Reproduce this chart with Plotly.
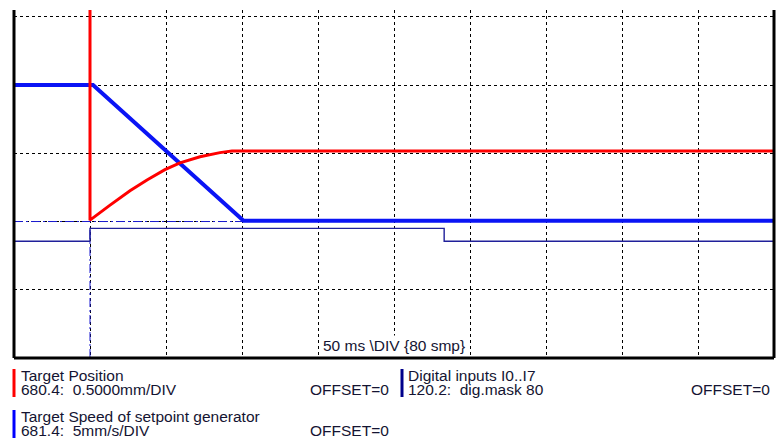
import plotly.graph_objects as go

# ---- data (time in ms, values in screen divisions) ----
pos_t = [50, 50, 63.2, 76.3, 87.5, 99.3, 109.2, 122.4, 135.5, 143.4, 500]
pos_v = [5.4, 2.02, 2.24, 2.45, 2.61, 2.76, 2.86, 2.95, 3.01, 3.035, 3.035]

spd_t = [0, 52, 151, 500]
spd_v = [4.0, 4.0, 2.01, 2.01]

dig_t = [0, 50, 50, 283, 283, 500]
dig_v = [1.71, 1.71, 1.90, 1.90, 1.71, 1.71]

cur_h_t = [0, 151]
cur_h_v = [2.0, 2.0]
cur_v_t = [50, 50]
cur_v_v = [0, 1.9]

x_range = [0, 500]
y_range = [0, 5.1]

timebase_label = "50 ms \\DIV {80 smp}"
legend_rows = [
    ("Target Position", "680.4:  0.5000mm/DIV", "OFFSET=0", "#ff0000"),
    ("Target Speed of setpoint generator", "681.4:  5mm/s/DIV", "OFFSET=0", "#0000ff"),
]
legend_col2 = ("Digital inputs I0..I7", "120.2:  dig.mask 80", "OFFSET=0", "#00008b")

W, H = 781, 439
L, R, T, B = 14, 774, 10, 358
TXT = "#141432"
FONT = "Arial"
FS = 15.5

fig = go.Figure()
fig.add_trace(go.Scatter(x=cur_h_t, y=cur_h_v, mode="lines",
                         line=dict(color="#1a1ad0", width=1, dash="9px,3px,2px,3px")))
fig.add_trace(go.Scatter(x=cur_v_t, y=cur_v_v, mode="lines",
                         line=dict(color="#1a1ad0", width=1, dash="9px,3px,2px,3px")))
fig.add_trace(go.Scatter(x=dig_t, y=dig_v, mode="lines",
                         line=dict(color="#20209a", width=1.4)))
fig.add_trace(go.Scatter(x=spd_t, y=spd_v, mode="lines",
                         line=dict(color="#0a14f5", width=4)))
fig.add_trace(go.Scatter(x=pos_t, y=pos_v, mode="lines",
                         line=dict(color="#ff0000", width=3)))

def px(xp):
    return (xp - L) / (R - L)

def py(yp):
    return (B - yp) / (B - T)

shapes = [
    dict(type="line", xref="paper", yref="paper", x0=0, x1=0, y0=0, y1=1,
         line=dict(color="black", width=3)),
    dict(type="line", xref="paper", yref="paper", x0=1, x1=1, y0=0, y1=1,
         line=dict(color="black", width=3)),
    dict(type="line", xref="paper", yref="paper", x0=0, x1=1, y0=0, y1=0,
         line=dict(color="black", width=3)),
]

annotations = [
    dict(text=timebase_label, xref="x", yref="paper", x=250, y=0, yshift=2,
         xanchor="center", yanchor="bottom", showarrow=False, bgcolor="white",
         borderpad=1, font=dict(family=FONT, size=FS, color=TXT)),
]

def legend_block(x_bar, x_text, x_off, y_top, entry):
    name, scale, off, col = entry
    shapes.append(dict(type="line", xref="paper", yref="paper",
                       x0=px(x_bar), x1=px(x_bar), y0=py(y_top), y1=py(y_top + 28),
                       line=dict(color=col, width=3)))
    annotations.append(dict(text=name, xref="paper", yref="paper", x=px(x_text), y=py(y_top + 6),
                            xanchor="left", yanchor="middle", showarrow=False,
                            font=dict(family=FONT, size=FS, color=TXT)))
    annotations.append(dict(text=scale, xref="paper", yref="paper", x=px(x_text), y=py(y_top + 20),
                            xanchor="left", yanchor="middle", showarrow=False,
                            font=dict(family=FONT, size=FS, color=TXT)))
    annotations.append(dict(text=off, xref="paper", yref="paper", x=px(x_off), y=py(y_top + 20),
                            xanchor="right", yanchor="middle", showarrow=False,
                            font=dict(family=FONT, size=FS, color=TXT)))

legend_block(14, 19, 391, 369, legend_rows[0])
legend_block(14, 19, 391, 410, legend_rows[1])
legend_block(402, 406, 772, 369, legend_col2)

fig.update_layout(
    width=W, height=H,
    margin=dict(l=L, r=W - R, t=T, b=H - B, pad=0),
    paper_bgcolor="white", plot_bgcolor="white",
    showlegend=False,
    shapes=shapes, annotations=annotations,
    xaxis=dict(range=x_range, tick0=0, dtick=50, showgrid=True, gridcolor="black",
               gridwidth=1, griddash="3px,3px", zeroline=False, showticklabels=False,
               ticks="", showline=False, fixedrange=True),
    yaxis=dict(range=y_range, tick0=0, dtick=1, showgrid=True, gridcolor="black",
               gridwidth=1, griddash="3px,3px", zeroline=False, showticklabels=False,
               ticks="", showline=False, fixedrange=True),
)

fig.write_html("out.html", config={"displayModeBar": False},
               post_script="document.body.style.margin='0';document.body.style.overflow='hidden';")
